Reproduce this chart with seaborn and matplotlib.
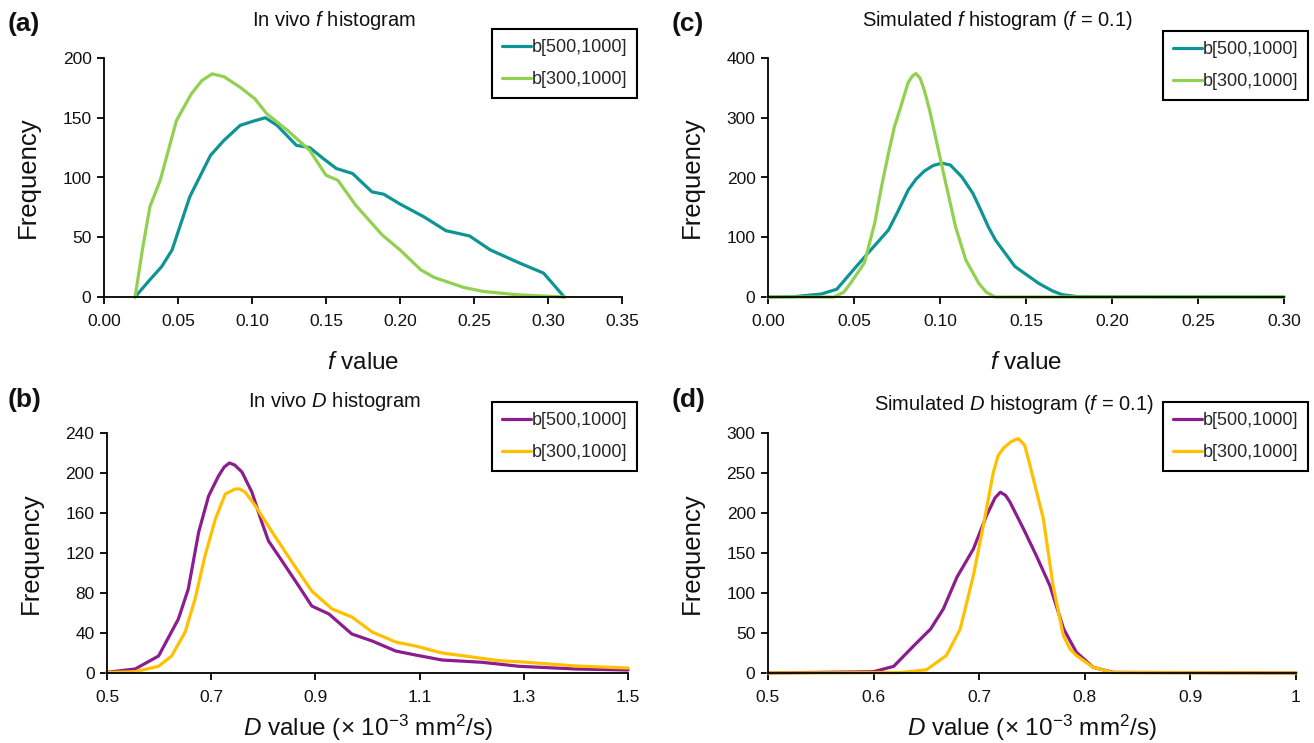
import matplotlib
matplotlib.use("Agg")
import matplotlib.pyplot as plt
import seaborn as sns
import pandas as pd

# ---------------- data ----------------
labels = ["b[500,1000]", "b[300,1000]"]

# (a) In vivo f histogram
a_x_500 = [0.021, 0.030, 0.039, 0.046, 0.058, 0.072, 0.081, 0.092, 0.101, 0.109, 0.117, 0.130, 0.139,
           0.148, 0.157, 0.168, 0.181, 0.189, 0.200, 0.216, 0.231, 0.247, 0.261, 0.281, 0.297, 0.311]
a_y_500 = [0, 13, 25.5, 39.4, 84, 118.6, 131, 143.6, 147.2, 150, 143.6, 126.9, 125,
           116, 107.5, 103.3, 88, 86, 77.8, 67.2, 55.5, 51.1, 39.4, 28.3, 20, 0]
a_x_300 = [0.021, 0.026, 0.031, 0.038, 0.049, 0.059, 0.066, 0.073, 0.081, 0.092, 0.102, 0.110, 0.124,
           0.139, 0.150, 0.158, 0.170, 0.188, 0.200, 0.214, 0.223, 0.229, 0.243, 0.256, 0.279, 0.311]
a_y_300 = [0, 40, 75.5, 97.7, 147.8, 170, 181, 186.7, 184.4, 175.5, 165.8, 153.3, 139.4,
           122.7, 101.9, 97.7, 76.9, 51.9, 39.4, 22.8, 16.4, 13.9, 8, 4.7, 1.9, 0]

# (c) Simulated f histogram
c_x_500 = [0.0, 0.015, 0.031, 0.040, 0.048, 0.058, 0.070, 0.0755, 0.0815, 0.086, 0.091, 0.096, 0.101,
           0.106, 0.1127, 0.119, 0.1225, 0.128, 0.1323, 0.1436, 0.1573, 0.1655, 0.171, 0.18, 0.30]
c_y_500 = [0, 0.5, 5, 13, 40, 73, 112, 143, 179, 197, 211, 220, 224,
           221, 201, 174, 153, 118, 95, 51, 23, 10, 4, 0.5, 0]
c_x_300 = [0.0, 0.0385, 0.044, 0.048, 0.056, 0.062, 0.066, 0.070, 0.0735, 0.0765, 0.0815, 0.084, 0.086,
           0.0885, 0.091, 0.094, 0.097, 0.103, 0.109, 0.115, 0.1225, 0.127, 0.132, 0.30]
c_y_300 = [0, 0, 8, 23, 57, 123, 185, 240, 285, 312, 359, 370, 374,
           366, 345, 312, 273, 195, 118, 62, 23, 8, 0, 0]

# (b) In vivo D histogram
b_x_500 = [0.5, 0.554, 0.599, 0.637, 0.656, 0.676, 0.695, 0.714, 0.725, 0.735, 0.745, 0.759, 0.778,
           0.797, 0.81, 0.836, 0.868, 0.893, 0.926, 0.970, 1.009, 1.054, 1.092, 1.143, 1.220, 1.291,
           1.4, 1.5]
b_y_500 = [0.7, 4, 17, 54, 84, 141, 177, 197, 206, 210, 208, 201, 181,
           151, 132, 112, 87, 67, 59, 39, 32, 22, 18, 13, 10.7, 6.7,
           4, 3]
b_x_300 = [0.5, 0.554, 0.599, 0.624, 0.65, 0.669, 0.688, 0.708, 0.727, 0.746, 0.755, 0.765, 0.785,
           0.817, 0.855, 0.893, 0.932, 0.970, 1.009, 1.054, 1.092, 1.143, 1.201, 1.252, 1.291, 1.4, 1.5]
b_y_300 = [0.5, 1.3, 6.7, 17, 41, 74, 117, 154, 179, 184, 184, 181, 167,
           141, 111, 82, 64, 56, 41, 31, 27, 20, 16, 12.3, 11.3, 7, 5]

# (d) Simulated D histogram
d_x_500 = [0.5, 0.6, 0.619, 0.638, 0.654, 0.666, 0.679, 0.6945, 0.707, 0.715, 0.720, 0.725, 0.729,
           0.742, 0.754, 0.767, 0.780, 0.792, 0.808, 0.827, 1.0]
d_y_500 = [0, 1.6, 8.3, 34, 55, 80, 120, 155, 197, 219, 226, 222, 214,
           180, 147, 109, 55, 26, 7, 0.8, 0]
d_x_300 = [0.5, 0.625, 0.650, 0.669, 0.682, 0.6945, 0.704, 0.7134, 0.718, 0.723, 0.730, 0.737,
           0.743, 0.748, 0.7607, 0.770, 0.7796, 0.786, 0.792, 0.808, 0.827, 1.0]
d_y_300 = [0, 0.5, 4, 22, 55, 122, 185, 251, 272, 281, 289, 293,
           285, 260, 193, 109, 47, 30, 22, 7, 0.5, 0]

# tick labels
a_xticks = [0.00, 0.05, 0.10, 0.15, 0.20, 0.25, 0.30, 0.35]
a_yticks = [0, 50, 100, 150, 200]
c_xticks = [0.00, 0.05, 0.10, 0.15, 0.20, 0.25, 0.30]
c_yticks = [0, 100, 200, 300, 400]
b_xticks = [0.5, 0.7, 0.9, 1.1, 1.3, 1.5]
b_yticks = [0, 40, 80, 120, 160, 200, 240]
d_xticks = [0.5, 0.6, 0.7, 0.8, 0.9, 1.0]
d_xticklabels = ["0.5", "0.6", "0.7", "0.8", "0.9", "1"]
d_yticks = [0, 50, 100, 150, 200, 250, 300]

# ---------------- style ----------------
sns.set_theme(style="ticks")
FONT = ["Liberation Sans", "DejaVu Sans"]
plt.rcParams["font.family"] = FONT
plt.rcParams["mathtext.fontset"] = "custom"
plt.rcParams["mathtext.rm"] = "Liberation Sans"
plt.rcParams["mathtext.it"] = "Liberation Sans:italic"
plt.rcParams["mathtext.default"] = "rm"

TEAL = "#0E9494"
GREEN = "#92D050"
PURPLE = "#8B1D8E"
GOLD = "#FFC000"
INK = "#111111"

fig = plt.figure(figsize=(13.14, 7.43), dpi=100)
W, H = 1314, 743


def axes_px(l, r, t, b):
    return fig.add_axes([l / W, 1 - b / H, (r - l) / W, (b - t) / H])


ax_a = axes_px(104, 622, 58, 297)
ax_c = axes_px(768, 1284, 58, 297)
ax_b = axes_px(107, 628, 433, 673)
ax_d = axes_px(768, 1296, 433, 673)

f_label = r"$\it{f}$ value"
d_label = r"$\it{D}$ value (× 10$^{-3}$ mm$^{2}$/s)"

panels = [
    (ax_a, a_x_500, a_y_500, a_x_300, a_y_300, TEAL, GREEN, a_xticks, [f"{v:.2f}" for v in a_xticks], a_yticks,
     f_label, 17, (637, 29)),
    (ax_c, c_x_500, c_y_500, c_x_300, c_y_300, TEAL, GREEN, c_xticks, [f"{v:.2f}" for v in c_xticks], c_yticks,
     f_label, 17, (1308, 31)),
    (ax_b, b_x_500, b_y_500, b_x_300, b_y_300, PURPLE, GOLD, b_xticks, [f"{v:.1f}" for v in b_xticks], b_yticks,
     d_label, 6, (637, 402)),
    (ax_d, d_x_500, d_y_500, d_x_300, d_y_300, PURPLE, GOLD, d_xticks, d_xticklabels, d_yticks,
     d_label, 6, (1308, 402)),
]

for (ax, x1, y1, x2, y2, c1, c2, xt, xtl, yt, xlabel, xpad, legpos) in panels:
    df1 = pd.DataFrame({"x": x1, "y": y1})
    df2 = pd.DataFrame({"x": x2, "y": y2})
    sns.lineplot(data=df1, x="x", y="y", ax=ax, color=c1, lw=2.3, label=labels[0],
                 clip_on=False, solid_joinstyle="round", solid_capstyle="round")
    sns.lineplot(data=df2, x="x", y="y", ax=ax, color=c2, lw=2.3, label=labels[1],
                 clip_on=False, solid_joinstyle="round", solid_capstyle="round")
    ax.set_xlim(xt[0], xt[-1])
    ax.set_ylim(yt[0], yt[-1])
    ax.set_xticks(xt)
    ax.set_xticklabels(xtl)
    ax.set_yticks(yt)
    ax.set_yticklabels([str(v) for v in yt])
    ax.tick_params(axis="both", direction="out", length=5, width=1.3, color="black",
                   labelsize=12.5, labelcolor=INK)
    ax.tick_params(axis="x", pad=7)
    ax.tick_params(axis="y", pad=4)
    for s in ["top", "right"]:
        ax.spines[s].set_visible(False)
    for s in ["left", "bottom"]:
        ax.spines[s].set_linewidth(1.3)
        ax.spines[s].set_color("black")
    ax.set_xlabel(xlabel, fontsize=17.5, labelpad=xpad, color=INK)
    ax.set_ylabel("Frequency", fontsize=18.5, labelpad=16, color=INK)
    ax.patch.set_alpha(0)
    leg = ax.legend(loc="upper right", bbox_to_anchor=(legpos[0] / W, 1 - legpos[1] / H),
                    bbox_transform=fig.transFigure, borderaxespad=0, fontsize=13,
                    frameon=True, fancybox=False, framealpha=1, edgecolor="black",
                    handlelength=1.6, handletextpad=0.05, labelspacing=0.85, borderpad=0.55)
    leg.get_frame().set_linewidth(1.5)
    for ln in leg.get_lines():
        ln.set_linewidth(2.3)

# panel titles (figure pixel positions)
titles = [
    (r"In vivo $\it{f}$ histogram", 334, 20),
    (r"Simulated $\it{f}$ histogram ($\it{f}$ = 0.1)", 997, 20),
    (r"In vivo $\it{D}$ histogram", 334, 401),
    (r"Simulated $\it{D}$ histogram ($\it{f}$ = 0.1)", 1014, 404),
]
for txt, tx, ty in titles:
    fig.text(tx / W, 1 - ty / H, txt, fontsize=14.5, ha="center", va="center", color=INK)

for tag, (px, py) in {"(a)": (8, 24), "(c)": (672, 24), "(b)": (8, 400), "(d)": (672, 400)}.items():
    fig.text(px / W, 1 - py / H, tag, fontsize=19, fontweight="bold", ha="left", va="center", color=INK)

fig.savefig("out.png", dpi=100)
